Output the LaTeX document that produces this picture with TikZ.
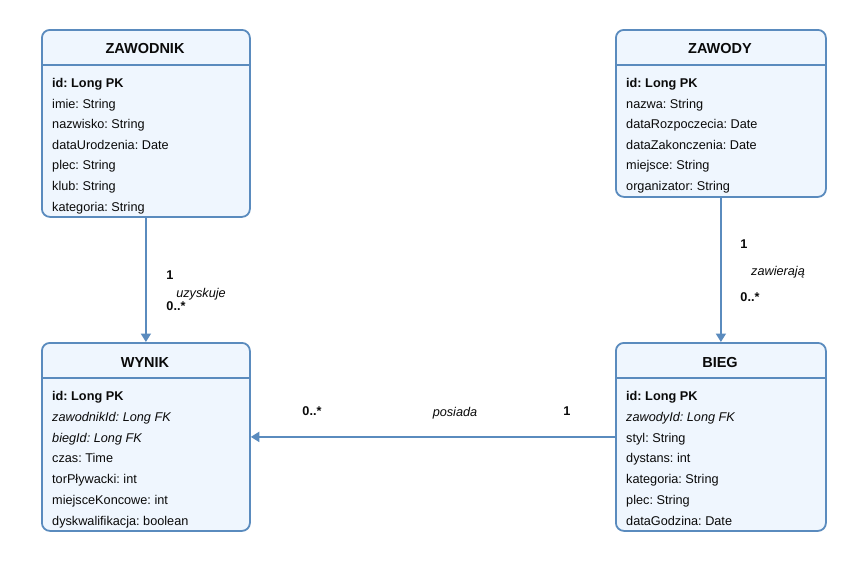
\documentclass[tikz,border=0pt]{standalone}
\usepackage{fontspec}
\setmainfont{Liberation Sans}
\usetikzlibrary{arrows.meta}
\frenchspacing
\definecolor{bordc}{HTML}{5A8BBE}
\definecolor{fillc}{HTML}{EFF6FE}
\definecolor{txtc}{HTML}{0A0A0A}
\tikzset{
  entity/.style={draw=bordc, fill=fillc, line width=1.8pt, rounded corners=8pt, inner sep=0pt, anchor=north west},
  sepline/.style={draw=bordc, line width=1.2pt},
  title/.style={font=\fontsize{14.5}{16}\selectfont\bfseries, text=txtc, inner sep=0pt, anchor=base},
  row/.style={font=\fontsize{12.7}{15}\selectfont, text=txtc, inner sep=0pt, anchor=base west},
  lab/.style={font=\fontsize{12.7}{15}\selectfont, text=txtc, inner sep=0pt, anchor=base},
  conn/.style={draw=bordc, line width=1.8pt, -{Triangle[length=8.5pt,width=10pt]}},
}
\begin{document}
\begin{tikzpicture}[x=1pt,y=-1pt]
\useasboundingbox[fill=white] (0,0) rectangle (867,565);
% boxes
\node[entity, minimum width=208pt, minimum height=187pt] (zawodnik) at (41,29) {};
\node[entity, minimum width=210pt, minimum height=167pt] (zawody) at (615,29) {};
\node[entity, minimum width=208pt, minimum height=188pt] (wynik) at (41,342) {};
\node[entity, minimum width=210pt, minimum height=188pt] (bieg) at (615,342) {};
% separators
\draw[sepline] (zawodnik.west |- 0,65) -- (zawodnik.east |- 0,65);
\draw[sepline] (zawody.west |- 0,65) -- (zawody.east |- 0,65);
\draw[sepline] (wynik.west |- 0,378) -- (wynik.east |- 0,378);
\draw[sepline] (bieg.west |- 0,378) -- (bieg.east |- 0,378);
% titles
\node[title] (t1) at (145,53) {ZAWODNIK};
\node[title] (t2) at (720,53) {ZAWODY};
\node[title] (t3) at (145,367) {WYNIK};
\node[title] (t4) at (720,367) {BIEG};
% rows
\foreach \t [count=\i from 0] in {\bfseries id: Long PK, imie: String, nazwisko: String, dataUrodzenia: Date, plec: String, klub: String, kategoria: String}
  \node[row] (za\i) at (52,{87.5+20.6*\i}) {\t};
\foreach \t [count=\i from 0] in {\bfseries id: Long PK, nazwa: String, dataRozpoczecia: Date, dataZakonczenia: Date, miejsce: String, organizator: String}
  \node[row] (zy\i) at (626,{87.5+20.6*\i}) {\t};
\foreach \t [count=\i from 0] in {\bfseries id: Long PK, \itshape zawodnikId: Long FK, \itshape biegId: Long FK, czas: Time, torPływacki: int, miejsceKoncowe: int, dyskwalifikacja: boolean}
  \node[row] (wy\i) at (52,{400.5+20.8*\i}) {\t};
\foreach \t [count=\i from 0] in {\bfseries id: Long PK, \itshape zawodyId: Long FK, styl: String, dystans: int, kategoria: String, plec: String, dataGodzina: Date}
  \node[row] (bi\i) at (626,{400.5+20.8*\i}) {\t};
% connectors
\draw[conn] (zawodnik.south) -- (wynik.north);
\draw[conn] (zawody.south) -- (bieg.north);
\draw[conn] (bieg.west) -- (wynik.east);
% labels
\node[lab, font=\fontsize{12.7}{15}\selectfont\bfseries] (l1) at (170,279) {1};
\node[lab, font=\fontsize{12.7}{15}\selectfont\itshape] (l2) at (201,297) {uzyskuje};
\node[lab, font=\fontsize{12.7}{15}\selectfont\bfseries] (l3) at (176,310) {0..*};
\node[lab, font=\fontsize{12.7}{15}\selectfont\bfseries] (l4) at (744,248) {1};
\node[lab, font=\fontsize{12.7}{15}\selectfont\itshape] (l5) at (778,275) {zawierają};
\node[lab, font=\fontsize{12.7}{15}\selectfont\bfseries] (l6) at (750,301) {0..*};
\node[lab, font=\fontsize{12.7}{15}\selectfont\bfseries] (l7) at (312,415) {0..*};
\node[lab, font=\fontsize{12.7}{15}\selectfont\itshape] (l8) at (455,416) {posiada};
\node[lab, font=\fontsize{12.7}{15}\selectfont\bfseries] (l9) at (567,415) {1};
\end{tikzpicture}
\end{document}
